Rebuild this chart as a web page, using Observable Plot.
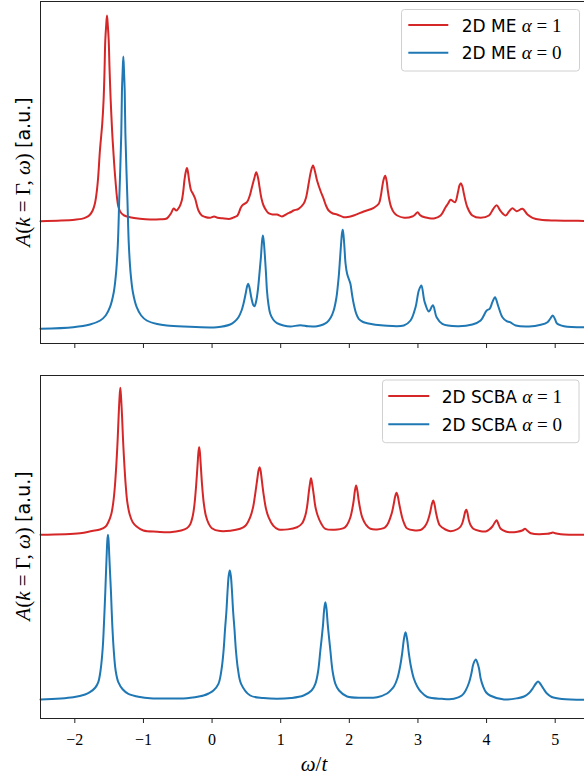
<!DOCTYPE html>
<html><head><meta charset="utf-8">
<script src="https://cdn.jsdelivr.net/npm/d3@7"></script>
<script src="https://cdn.jsdelivr.net/npm/@observablehq/plot@0.6"></script>
<style>
html,body{margin:0;padding:0;background:#fff;overflow:hidden;}
#wrap{position:relative;width:584px;height:775px;overflow:hidden;background:#fff;}
#top{position:absolute;left:0;top:0;}
#bot{position:absolute;left:0;top:360px;}
svg{overflow:hidden;}
</style></head><body><div id="wrap"><div id="top"></div><div id="bot"></div></div>
<script>
// x ticks
const xTicks = [-2, -1, 0, 1, 2, 3, 4, 5];

// Top panel: 2D ME, alpha = 1 (red)
const wME1 = [-2.5,-2.2,-2.0,-1.9,-1.83,-1.78,-1.74,-1.707,-1.68,-1.66,-1.634,-1.60,-1.581,-1.568,-1.556,-1.543,-1.531,-1.519,-1.506,-1.494,-1.477,-1.456,-1.439,-1.41,-1.366,-1.33,-1.28,-1.196,-1.05,-0.904,-0.75,-0.66,-0.60,-0.56,-0.52,-0.48,-0.441,-0.42,-0.403,-0.385,-0.366,-0.35,-0.334,-0.305,-0.28,-0.247,-0.198,-0.15,-0.10,-0.03,0.03,0.08,0.15,0.264,0.33,0.371,0.42,0.45,0.508,0.55,0.581,0.615,0.644,0.672,0.692,0.72,0.75,0.79,0.823,0.88,0.946,1.019,1.092,1.15,1.188,1.261,1.334,1.37,1.407,1.44,1.471,1.50,1.53,1.578,1.626,1.66,1.699,1.76,1.822,1.918,1.98,2.064,2.21,2.356,2.429,2.455,2.479,2.50,2.523,2.545,2.561,2.585,2.610,2.65,2.698,2.80,2.917,2.96,2.995,3.03,3.063,3.15,3.232,3.33,3.403,3.44,3.476,3.539,3.583,3.605,3.626,3.648,3.670,3.72,3.793,3.914,4.035,4.099,4.147,4.206,4.279,4.327,4.377,4.439,4.523,4.596,4.669,4.79,5.0,5.2,5.5];
const aME1 = [122.3,123.0,123.8,124.6,126.3,128.8,133,140,152,166,193,220,243,270,303,318,328,318,303,275,243,212,193,165,137,131,128,126.3,124.8,124,124.3,125,130,135,133,136,143,152,163,171,175.5,171,163,153,150,145,133,128,126.5,125.7,127,125.8,125.2,124.7,126.5,128,136,138.7,141.3,148,156.3,165,171.3,165,156.3,145,138,133,130.3,129,129,127,129.7,131.5,133,134.7,139.7,146,159.7,172,178,172,163,153,144.7,138,133,130,129,126.3,126.5,128,132,135.7,139.7,146,156.3,164,167.7,162,153,143,136.3,131,128,125.8,127,129,131.3,128.5,127,125.5,125,128,136.3,140,143.7,141.3,151.3,158,160.3,157,149.7,136.3,128,125.7,128,134.7,138.3,132.3,128,132,135.3,132.3,134.7,129,125.7,123.7,123,122.8,122.5];

// Top panel: 2D ME, alpha = 0 (blue)
const wME0 = [-2.5,-2.023,-1.78,-1.63,-1.55,-1.488,-1.433,-1.40,-1.373,-1.353,-1.338,-1.323,-1.313,-1.303,-1.293,-1.283,-1.273,-1.263,-1.248,-1.233,-1.213,-1.186,-1.153,-1.098,-1.033,-0.952,-0.80,-0.66,-0.418,0.07,0.264,0.33,0.385,0.43,0.458,0.49,0.51,0.527,0.545,0.571,0.60,0.619,0.645,0.665,0.677,0.697,0.712,0.728,0.741,0.755,0.771,0.786,0.80,0.82,0.848,0.89,0.946,1.04,1.14,1.286,1.40,1.53,1.62,1.676,1.73,1.772,1.81,1.83,1.845,1.865,1.88,1.893,1.904,1.916,1.929,1.945,1.968,1.99,2.016,2.04,2.064,2.10,2.137,2.20,2.26,2.502,2.794,2.892,2.965,3.013,3.05,3.096,3.159,3.218,3.272,3.355,3.574,3.793,3.914,4.002,4.045,4.085,4.123,4.167,4.231,4.293,4.342,4.425,4.619,4.79,4.888,4.93,4.965,5.0,5.023,5.13,5.5];
const aME0 = [14.7,16.3,19,23,28,36.3,51,69.7,99,143,174,209.7,253,272,287,272,253,209.7,174,143,99,69.7,51,36.3,28,23,19.5,18,17,16.3,19,22,26.3,33,39.7,50,57,59.7,56,46.3,38.5,37.3,43,52,59.7,75,86.3,102,108,101,86.3,70,53,40,29.7,24,20.3,18,17,18.3,17.2,17.3,19,21.3,26,33,45,56,66.3,85,99.7,110,113.7,108,96.3,80,69.7,65,59.7,49,39.7,30,24.7,21.5,20.3,18,18,23,36.3,53,58,42,32,38.2,26.3,19.7,17.3,19,23,33,34.7,41.3,46.3,38,26.3,22.3,21.3,18,17,18.7,21.3,25,28,24,20.3,17.3,16.2];

// Bottom panel: 2D SCBA, alpha = 1 (red)
const wSC1 = [-2.5,-1.925,-1.75,-1.634,-1.55,-1.512,-1.47,-1.439,-1.415,-1.39,-1.375,-1.361,-1.349,-1.337,-1.325,-1.312,-1.298,-1.283,-1.258,-1.235,-1.20,-1.156,-1.10,-1.001,-0.8,-0.612,-0.45,-0.368,-0.32,-0.28,-0.255,-0.232,-0.21,-0.199,-0.188,-0.177,-0.166,-0.145,-0.12,-0.091,-0.05,-0.003,0.118,0.41,0.49,0.556,0.60,0.629,0.66,0.677,0.692,0.707,0.722,0.75,0.785,0.823,0.89,0.969,1.238,1.31,1.359,1.385,1.407,1.425,1.442,1.46,1.48,1.505,1.539,1.59,1.651,1.918,1.97,2.016,2.042,2.064,2.082,2.099,2.117,2.137,2.16,2.187,2.24,2.308,2.502,2.555,2.6,2.625,2.648,2.668,2.688,2.708,2.727,2.75,2.77,2.80,2.844,3.038,3.10,3.136,3.163,3.184,3.205,3.223,3.242,3.262,3.29,3.32,3.40,3.476,3.58,3.622,3.65,3.67,3.69,3.705,3.72,3.743,3.77,3.807,3.90,3.987,4.03,4.085,4.12,4.147,4.17,4.206,4.28,4.352,4.45,4.52,4.561,4.60,4.644,4.888,4.94,4.969,5.0,5.082,5.5];
const aSC1 = [183.7,185.3,187.5,189,192,196.3,204,216.3,233,259.7,280,303,320,330.7,320,303,280,259.7,233,216.3,204,196.3,192,188,186.8,186.3,188,190.3,194,203,215,233,255,266,271.3,266,255,233,215,203,195,190.3,187.5,189.7,193,201.3,212,224.7,240,248,251.3,248,240,224.7,210,201.3,193,189,191.3,195,203,212,224.7,234,240.3,234,224.7,212,203,195,189.7,190.3,194,201.3,209,218,228,233,228,218,209,201.3,194,189.7,190.3,194,201.3,207,214.7,222,225.7,222,214.7,207,201,195,190,188.5,192,196.3,202,208,215,218,214,206.3,198,193,189,187.3,189.5,192,196,201.3,207,208.7,206,198,193,189.7,187.5,187,188.5,192,196,198.3,195,189.7,187,186.3,186.8,188,189.7,187.5,185.3,184.7,185.5,186,185.2,184.3,183.6];

// Bottom panel: 2D SCBA, alpha = 0 (blue)
const wSC0 = [-2.5,-2.023,-1.85,-1.78,-1.70,-1.658,-1.625,-1.594,-1.575,-1.556,-1.546,-1.536,-1.527,-1.517,-1.507,-1.498,-1.486,-1.473,-1.455,-1.434,-1.405,-1.366,-1.30,-1.22,-1.05,-0.904,-0.5,-0.368,-0.25,-0.125,-0.05,0.02,0.093,0.14,0.168,0.19,0.21,0.228,0.243,0.258,0.273,0.288,0.306,0.326,0.348,0.376,0.423,0.556,0.75,0.946,1.15,1.334,1.45,1.505,1.545,1.578,1.60,1.618,1.635,1.651,1.667,1.685,1.703,1.724,1.757,1.797,1.85,1.968,2.2,2.406,2.55,2.6,2.65,2.70,2.74,2.77,2.795,2.819,2.843,2.868,2.898,2.94,2.99,3.04,3.136,3.35,3.524,3.64,3.695,3.745,3.778,3.81,3.845,3.87,3.89,3.914,3.95,3.995,4.05,4.254,4.45,4.546,4.62,4.669,4.72,4.75,4.78,4.83,4.88,4.95,5.1,5.5];
const aSC0 = [19,21.3,24,26.3,31,36.3,48,69.7,95,126.3,145,163,177,183.7,177,163,145,126.3,95,69.7,48,36.3,29,24.7,21.5,20.3,20,20.3,21.3,23,25,28,34.7,50,68,90,108,130,143,148,143,130,108,90,68,50,34.7,23,20.5,19.7,20.5,23,28,34.7,47,68,82,94.7,110,116.3,110,94.7,82,68,47,34.7,28,22,20.8,21.3,25,28,32,40,52,65,79,86.3,79,65,52,40,32,27,21.5,19.7,19.7,23,28,36,44.7,55,59,55,50,40,32,26,23,19,20.3,22,25.5,29.7,35,37,35,29.7,25,21.5,19.5,18.7];

const red = "#d62728", blue = "#1f77b4";
const rows = (w, a) => w.map((x, i) => ({w: x, a: a[i]}));

function panel({height, marginTop, marginBottom, yMax, series, labels}) {
  return Plot.plot({
    width: 584, height, marginLeft: 40, marginRight: -5, marginTop, marginBottom,
    x: {domain: [-2.5, 5.5]},
    y: {domain: [0, yMax], axis: null},
    style: {background: "white", fontFamily: "'Liberation Serif', serif", fontSize: "16px", color: "black", overflow: "hidden"},
    marks: [
      ...series.map(s => Plot.line(rows(s.w, s.a), {x: "w", y: "a", stroke: s.color, strokeWidth: 2, curve: "catmull-rom"})),
      Plot.frame({stroke: "#222", strokeWidth: 1}),
      Plot.axisX({ticks: xTicks, tickSize: 5, tickPadding: 10, label: null, stroke: "#222",
        tickFormat: labels ? (d => d3.format("")(d).replace("-", "\u2212")) : (() => "")})
    ]
  });
}

const topSvg = panel({height: 360, marginTop: 1, marginBottom: 17, yMax: 342,
  series: [{w: wME1, a: aME1, color: red}, {w: wME0, a: aME0, color: blue}], labels: false});
const botSvg = panel({height: 415, marginTop: 15, marginBottom: 57, yMax: 343,
  series: [{w: wSC1, a: aSC1, color: red}, {w: wSC0, a: aSC0, color: blue}], labels: true});
document.getElementById("top").appendChild(topSvg);
document.getElementById("bot").appendChild(botSvg);

function yLabel(svg, cy) {
  const t = d3.select(svg).append("text")
    .attr("transform", `translate(30,${cy}) rotate(-90)`)
    .attr("text-anchor", "middle").style("font-size", "21px").attr("fill", "black")
    .style("font-family", "'Liberation Serif', serif");
  t.append("tspan").style("font-style", "italic").text("A");
  t.append("tspan").text("(");
  t.append("tspan").style("font-style", "italic").text("k");
  t.append("tspan").text(" = \u0393, ");
  t.append("tspan").style("font-style", "italic").text("\u03C9");
  t.append("tspan").text(") ");
  t.append("tspan").style("font-family", "'DejaVu Sans', sans-serif").style("font-size", "19px").text("[a.u.]");
}
yLabel(topSvg, 172);
yLabel(botSvg, 186);

function legend(svg, box, items, lx0, lx1, tx) {
  const g = d3.select(svg).append("g").attr("text-anchor", "start");
  g.append("rect").attr("x", box[0]).attr("y", box[1]).attr("width", box[2]).attr("height", box[3])
    .attr("rx", 3).attr("fill", "white").attr("fill-opacity", 0.8).attr("stroke", "#d0d0d0").attr("stroke-width", 1);
  items.forEach(it => {
    g.append("line").attr("x1", lx0).attr("x2", lx1).attr("y1", it.y).attr("y2", it.y)
      .attr("stroke", it.color).attr("stroke-width", 2);
    const t = g.append("text").attr("x", tx).attr("y", it.y + 6.5).attr("text-anchor", "start")
      .attr("fill", "black").style("font-size", "17px");
    t.append("tspan").style("font-family", "'DejaVu Sans', sans-serif").text(it.name + " ");
    t.append("tspan").style("font-family", "'Liberation Serif', serif").style("font-style", "italic").style("font-size", "19px").text("\u03B1");
    t.append("tspan").style("font-family", "'Liberation Serif', serif").style("font-size", "19px").text(" = " + it.alpha);
  });
}
legend(topSvg, [401.5, 9.5, 178, 61.5], [
  {y: 25, color: red, name: "2D ME", alpha: 1},
  {y: 52.7, color: blue, name: "2D ME", alpha: 0}], 408.3, 448.3, 461.7);
legend(botSvg, [382.5, 20, 196.5, 62.7], [
  {y: 36, color: red, name: "2D SCBA", alpha: 1},
  {y: 64.3, color: blue, name: "2D SCBA", alpha: 0}], 388.3, 429.3, 441.7);

// x label
const xl = d3.select(botSvg).append("text").attr("x", 314).attr("y", 411).attr("text-anchor", "middle")
  .attr("fill", "black").style("font-family", "'Liberation Serif', serif").style("font-size", "21px");
xl.append("tspan").style("font-style", "italic").text("\u03C9");
xl.append("tspan").text("/");
xl.append("tspan").style("font-style", "italic").text("t");
</script></body></html>
